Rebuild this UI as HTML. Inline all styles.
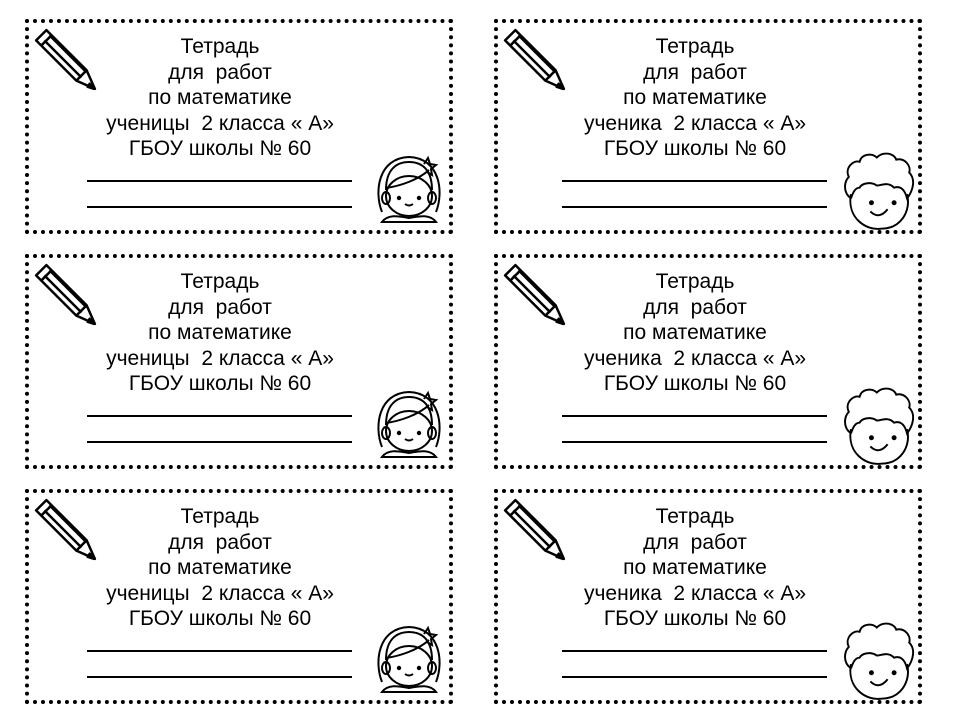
<!DOCTYPE html>
<html><head><meta charset="utf-8"><style>
body{margin:0;width:960px;height:720px;background:#fff;position:relative;overflow:hidden;font-family:"Liberation Sans",sans-serif}
.card{position:absolute;width:420px;height:207px;border:4px dotted #000;box-sizing:content-box}
.t{position:absolute;left:0;width:382px;text-align:center;font-size:21px;line-height:21px;color:#000;white-space:pre}
.r .t{width:394px}
.u{position:absolute;left:58px;width:265px;border-top:2px solid #000}
.r .u{left:64px}
svg{position:absolute}
</style></head><body>
<div id="root"></div>
<script>
const pencil='<svg style="left:4px;top:4px" width="66" height="66" viewBox="0 0 64 64"><g fill="none" stroke="#000" stroke-width="2.4" stroke-linejoin="round"><path d="M3 13 L13 3 L52 42 L60 60 L42 52 Z"/><path d="M8 18 L18 8"/><path d="M42 52 L52 42"/><path d="M11 13 L47 49"/><path d="M16 8 L51 43"/><path d="M55 55 l4 5 l-6 -2z" fill="#000"/></g></svg>';
const girl='<svg style="left:345px;top:128px" width="70" height="78" viewBox="0 0 70 76"><g fill="none" stroke="#000" stroke-width="2"><path d="M8 60 C0 40 4 6 35 5 C66 6 70 40 62 60"/><path d="M12 38 C12 18 22 10 35 10 C50 10 58 20 58 38"/><ellipse cx="35" cy="44" rx="23" ry="20"/><path d="M12 36 C26 34 44 28 55 18"/><path d="M50 12 l4 -6 l2 6 l6 1 l-5 4 l1 6 l-5 -3"/><path d="M8 70 C14 62 24 64 35 66 C46 64 56 62 62 70 Z"/><ellipse cx="12" cy="46" rx="4" ry="6"/><ellipse cx="58" cy="46" rx="4" ry="6"/><path d="M31 52 q4 3 8 0"/></g><circle cx="25" cy="46" r="2.2"/><circle cx="45" cy="46" r="2.2"/></svg>';
const boy='<svg style="left:342px;top:128px" width="78" height="82" viewBox="0 0 72 76"><g fill="none" stroke="#000" stroke-width="1.8"><path d="M10 40 C6 62 24 74 38 72 C56 72 66 56 62 40"/><path d="M10 44 C2 38 4 28 8 24 C4 16 12 8 18 10 C20 2 30 2 34 6 C40 0 50 2 52 8 C60 6 66 14 64 20 C70 26 68 36 62 44 C60 36 56 32 50 34 C44 28 38 32 34 32 C28 28 20 30 18 34 C14 34 12 38 10 44"/><path d="M28 56 q8 8 16 -2"/></g><circle cx="29" cy="48" r="2.3"/><circle cx="50" cy="48" r="2.3"/></svg>';
const rows=[19,254,489];let h='';
rows.forEach(y=>{[[25,'ученицы  2 класса « А»',girl,''],[494,'ученика  2 класса « А»',boy,' r']].forEach(([x,l,f,c])=>{
h+=`<div class="card${c}" style="left:${x}px;top:${y}px">${pencil}
<div class="t" style="top:13px">Тетрадь</div><div class="t" style="top:39px">для  работ</div><div class="t" style="top:64px">по математике</div><div class="t" style="top:90px">${l}</div><div class="t" style="top:115px">ГБОУ школы № 60</div>
<div class="u" style="top:157px"></div><div class="u" style="top:183px"></div>${f}</div>`;});});
document.getElementById('root').innerHTML=h;
</script>
</body></html>
